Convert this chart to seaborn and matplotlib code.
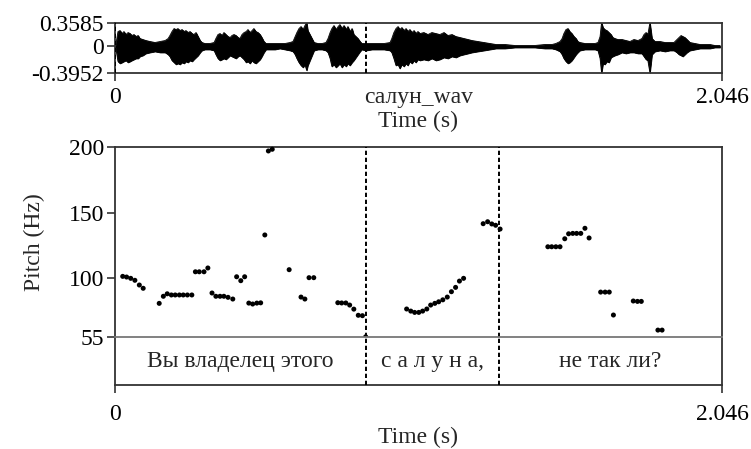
import matplotlib
matplotlib.use("Agg")
import matplotlib.pyplot as plt
import seaborn as sns

# --- sound -------------------------------------------------------------
DURATION = 2.046
WAVE_TOP = 0.3585
WAVE_BOTTOM = -0.3952
sound_name = "салун_wav"

# envelope of the waveform (s, upper peak, lower peak)
env_time = [
    0.000, 0.003, 0.010, 0.017, 0.024, 0.030, 0.037, 0.044, 0.051, 0.057,
    0.064, 0.071, 0.078, 0.084, 0.094, 0.104, 0.118, 0.135, 0.152, 0.169,
    0.179, 0.185, 0.192, 0.199, 0.206, 0.212, 0.219, 0.226, 0.233, 0.239,
    0.246, 0.253, 0.260, 0.266, 0.273, 0.280, 0.287, 0.293, 0.303, 0.320,
    0.334, 0.340, 0.347, 0.354, 0.361, 0.367, 0.374, 0.381, 0.388, 0.394,
    0.401, 0.408, 0.415, 0.421, 0.428, 0.435, 0.442, 0.448, 0.455, 0.462,
    0.468, 0.475, 0.482, 0.489, 0.495, 0.502, 0.509, 0.522, 0.539, 0.556,
    0.573, 0.590, 0.600, 0.607, 0.613, 0.620, 0.627, 0.634, 0.640, 0.646,
    0.650, 0.657, 0.664, 0.671, 0.684, 0.698, 0.711, 0.718, 0.725, 0.731,
    0.738, 0.745, 0.752, 0.758, 0.765, 0.772, 0.779, 0.785, 0.792, 0.799,
    0.805, 0.812, 0.819, 0.826, 0.832, 0.846, 0.866, 0.886, 0.907, 0.927,
    0.933, 0.940, 0.947, 0.954, 0.960, 0.967, 0.974, 0.981, 0.987, 0.994,
    1.001, 1.008, 1.014, 1.021, 1.028, 1.041, 1.055, 1.068, 1.082, 1.095,
    1.109, 1.122, 1.136, 1.149, 1.163, 1.176, 1.190, 1.203, 1.223, 1.244,
    1.264, 1.284, 1.314, 1.348, 1.382, 1.415, 1.449, 1.473, 1.486, 1.500,
    1.507, 1.513, 1.520, 1.527, 1.533, 1.540, 1.547, 1.554, 1.560, 1.567,
    1.584, 1.601, 1.618, 1.628, 1.635, 1.640, 1.645, 1.651, 1.658, 1.665,
    1.672, 1.678, 1.685, 1.695, 1.709, 1.722, 1.736, 1.749, 1.763, 1.776,
    1.783, 1.790, 1.796, 1.803, 1.810, 1.820, 1.837, 1.854, 1.870, 1.884,
    1.894, 1.901, 1.908, 1.914, 1.921, 1.928, 1.938, 1.955, 1.972, 1.988,
    2.005, 2.022, 2.039,
]
env_upper = [
    0, .03, .225, .24, .195, .225, .18, .21, .195, .165,
    .18, .15, .165, .12, .105, .09, .075, .06, .075, .09,
    .12, .165, .225, .27, .255, .27, .24, .255, .225, .24,
    .21, .225, .195, .18, .21, .15, .09, .06, .045, .045,
    .06, .12, .18, .195, .165, .21, .18, .15, .135, .165,
    .18, .165, .135, .12, .18, .21, .225, .255, .21, .24,
    .27, .225, .21, .18, .135, .075, .045, .045, .045, .045,
    .045, .06, .075, .15, .21, .27, .30, .255, .315, .3585,
    .24, .18, .12, .06, .045, .045, .06, .12, .21, .27,
    .315, .255, .30, .33, .27, .315, .255, .30, .225, .27,
    .18, .15, .12, .075, .045, .045, .045, .045, .045, .06,
    .12, .21, .27, .30, .255, .285, .24, .27, .225, .255,
    .21, .24, .195, .225, .195, .21, .18, .21, .195, .18,
    .21, .165, .18, .15, .135, .12, .105, .09, .075, .06,
    .045, .03, .03, .015, .015, .015, .03, .03, .045, .075,
    .12, .195, .255, .27, .225, .195, .15, .12, .075, .06,
    .045, .045, .045, .06, .15, .3585, .285, .255, .24, .21,
    .18, .135, .12, .105, .105, .09, .075, .105, .09, .12,
    .18, .21, .18, .3585, .12, .075, .075, .06, .06, .06,
    .105, .135, .165, .15, .135, .105, .06, .045, .03, .03,
    .03, .015, .015,
]
env_lower = [
    0, -.03, -.225, -.255, -.24, -.225, -.21, -.24, -.225, -.21,
    -.195, -.18, -.18, -.15, -.135, -.105, -.09, -.075, -.09, -.09,
    -.12, -.15, -.21, -.24, -.27, -.255, -.27, -.24, -.255, -.225,
    -.24, -.21, -.225, -.195, -.165, -.135, -.09, -.06, -.045, -.045,
    -.06, -.12, -.18, -.21, -.195, -.18, -.195, -.165, -.135, -.15,
    -.165, -.18, -.15, -.135, -.165, -.195, -.24, -.225, -.255, -.21,
    -.24, -.255, -.225, -.195, -.15, -.09, -.045, -.045, -.045, -.03,
    -.045, -.06, -.075, -.12, -.18, -.24, -.285, -.315, -.27, -.36,
    -.285, -.21, -.135, -.06, -.045, -.045, -.06, -.09, -.18, -.30,
    -.27, -.315, -.285, -.255, -.315, -.27, -.30, -.255, -.285, -.24,
    -.21, -.165, -.12, -.075, -.045, -.06, -.045, -.045, -.045, -.06,
    -.09, -.18, -.285, -.27, -.33, -.27, -.30, -.255, -.285, -.225,
    -.255, -.21, -.24, -.195, -.21, -.195, -.21, -.18, -.21, -.195,
    -.165, -.18, -.15, -.165, -.135, -.12, -.105, -.09, -.075, -.06,
    -.045, -.03, -.03, -.015, -.015, -.015, -.03, -.03, -.045, -.075,
    -.12, -.18, -.225, -.255, -.24, -.21, -.165, -.12, -.09, -.06,
    -.045, -.045, -.045, -.06, -.18, -.3952, -.255, -.27, -.225, -.24,
    -.165, -.15, -.135, -.12, -.09, -.105, -.09, -.09, -.105, -.105,
    -.15, -.195, -.21, -.3952, -.12, -.075, -.06, -.075, -.06, -.06,
    -.09, -.12, -.135, -.15, -.12, -.09, -.06, -.045, -.03, -.03,
    -.03, -.015, -.015,
]
wave_boundaries = [0.0, 0.845]

# --- pitch -------------------------------------------------------------
PITCH_FLOOR, PITCH_CEIL = 55, 200
pitch_ticks = [55, 100, 150, 200]
pitch_time = [
    0.026, 0.039, 0.053, 0.067, 0.082, 0.095, 0.149, 0.163, 0.176, 0.190,
    0.203, 0.217, 0.230, 0.244, 0.259, 0.271, 0.284, 0.300, 0.313, 0.327,
    0.340, 0.354, 0.367, 0.381, 0.397, 0.410, 0.424, 0.437, 0.451, 0.464,
    0.478, 0.491, 0.505, 0.517, 0.530, 0.587, 0.627, 0.640, 0.654, 0.670,
    0.751, 0.764, 0.778, 0.791, 0.805, 0.820, 0.834, 0.845,
    0.983, 0.997, 1.010, 1.024, 1.037, 1.051, 1.064, 1.078, 1.091, 1.105,
    1.120, 1.134, 1.148, 1.161, 1.175, 1.241, 1.256, 1.270, 1.283, 1.298,
    1.459, 1.472, 1.486, 1.500, 1.516, 1.529, 1.543, 1.556, 1.570, 1.584,
    1.598, 1.637, 1.652, 1.666, 1.680, 1.747, 1.761, 1.774, 1.830, 1.844,
]
pitch_hz = [
    101.5, 101.0, 100.0, 98.5, 94.9, 92.4, 80.9, 86.3, 88.2, 87.3,
    87.3, 87.3, 87.3, 87.3, 87.3, 105.0, 105.0, 105.0, 107.9, 88.8,
    86.3, 86.3, 86.3, 85.5, 84.2, 101.2, 98.2, 101.2, 81.1, 80.4,
    81.1, 81.3, 133.1, 197.2, 198.5, 106.6, 85.7, 84.2, 100.5, 100.5,
    81.4, 81.2, 81.2, 79.6, 76.5, 71.8, 71.5, 55.4,
    76.6, 75.0, 74.0, 74.0, 75.0, 76.6, 79.6, 80.9, 82.1, 83.6,
    85.7, 89.8, 93.1, 97.9, 100.0, 141.7, 143.2, 141.5, 140.5, 137.6,
    124.1, 124.1, 124.1, 124.1, 130.2, 134.0, 134.3, 134.3, 134.3, 138.2,
    130.8, 89.5, 89.5, 89.5, 72.0, 82.7, 82.4, 82.4, 60.5, 60.5,
]

# --- text tier ---------------------------------------------------------
tier_edges = [0.0, 0.845, 1.294, DURATION]
tier_labels = ["Вы владелец этого", "с а л у н а,", "не так ли?"]

# --- style -------------------------------------------------------------
sns.set_theme(style="white")
plt.rcParams["font.family"] = ["Liberation Serif", "DejaVu Serif"]
plt.rcParams["font.size"] = 17
plt.rcParams["axes.linewidth"] = 1.3
FS = 17
INK = "black"
FRAME = "#333333"
dash = (0, (2.2, 1.4))

W, H = 751, 449
fig = plt.figure(figsize=(W / 100, H / 100), dpi=100)


def box(left, top, right, bottom):
    return [left / W, 1 - bottom / H, (right - left) / W, (bottom - top) / H]


ax_w = fig.add_axes(box(115, 22.7, 722, 72.7))
ax_p = fig.add_axes(box(115, 147.3, 722, 337.3))
ax_t = fig.add_axes(box(115, 337.3, 722, 385))

# waveform
ax_w.fill_between(env_time, env_lower, env_upper, color=INK, linewidth=0.6)
sns.lineplot(x=env_time, y=env_upper, ax=ax_w, color=INK, linewidth=0.6)
sns.lineplot(x=env_time, y=env_lower, ax=ax_w, color=INK, linewidth=0.6)
for b in wave_boundaries:
    ax_w.axvline(b, color=INK, linewidth=1.4, linestyle=dash, zorder=5)
ax_w.set_xlim(0, DURATION)
ax_w.set_ylim(WAVE_BOTTOM, WAVE_TOP)
ax_w.set_yticks([WAVE_BOTTOM, 0, WAVE_TOP])
ax_w.set_yticklabels(["-0.3952", "0", "0.3585"])
ax_w.set_xticks([0, DURATION])
ax_w.set_xticklabels(["0", "2.046"])
ax_w.set_xlabel("")
ax_w.set_ylabel("")

# pitch
sns.scatterplot(x=pitch_time, y=pitch_hz, ax=ax_p, color=INK, s=13,
                edgecolor="none", zorder=3, clip_on=False)
ax_p.set_xlim(0, DURATION)
ax_p.set_ylim(PITCH_FLOOR, PITCH_CEIL)
ax_p.set_yticks(pitch_ticks)
ax_p.set_yticklabels([str(v) for v in pitch_ticks])
ax_p.set_xticks([])
ax_p.set_ylabel("Pitch (Hz)", fontsize=FS, labelpad=17)

# text tier
ax_t.set_xlim(0, DURATION)
ax_t.set_ylim(0, 1)
ax_t.set_yticks([])
ax_t.set_xticks([0, DURATION])
ax_t.set_xticklabels(["0", "2.046"])
for lo, hi, lab in zip(tier_edges[:-1], tier_edges[1:], tier_labels):
    ax_t.text((lo + hi) / 2, 0.5, lab, ha="center", va="center", fontsize=FS)
for b in tier_edges[1:-1]:
    ax_p.axvline(b, color=INK, linewidth=1.4, linestyle=dash, zorder=4)
    ax_t.axvline(b, color=INK, linewidth=1.4, linestyle=dash, zorder=4)

for ax in (ax_w, ax_p, ax_t):
    ax.set_facecolor("white")
    for s in ax.spines.values():
        s.set_color(FRAME)
        s.set_linewidth(1.3)
    ax.tick_params(axis="both", direction="out", length=6, width=1.2,
                   colors=FRAME, labelcolor=INK, labelsize=FS, pad=2,
                   left=True, bottom=True)
ax_p.tick_params(axis="x", bottom=False)
ax_t.tick_params(axis="y", left=False)
ax_p.spines["bottom"].set_visible(False)
ax_t.spines["top"].set_color("#777777")
ax_w.tick_params(axis="x", pad=4)
ax_t.tick_params(axis="x", pad=8)

# axis captions below the waveform and the tier
fig.text(418.5 / W, 1 - 97 / H, sound_name, ha="center", va="center", fontsize=FS)
fig.text(418.5 / W, 1 - 121 / H, "Time (s)", ha="center", va="center", fontsize=FS)
fig.text(418.5 / W, 1 - 437 / H, "Time (s)", ha="center", va="center", fontsize=FS)

fig.savefig("out.png", dpi=100)
